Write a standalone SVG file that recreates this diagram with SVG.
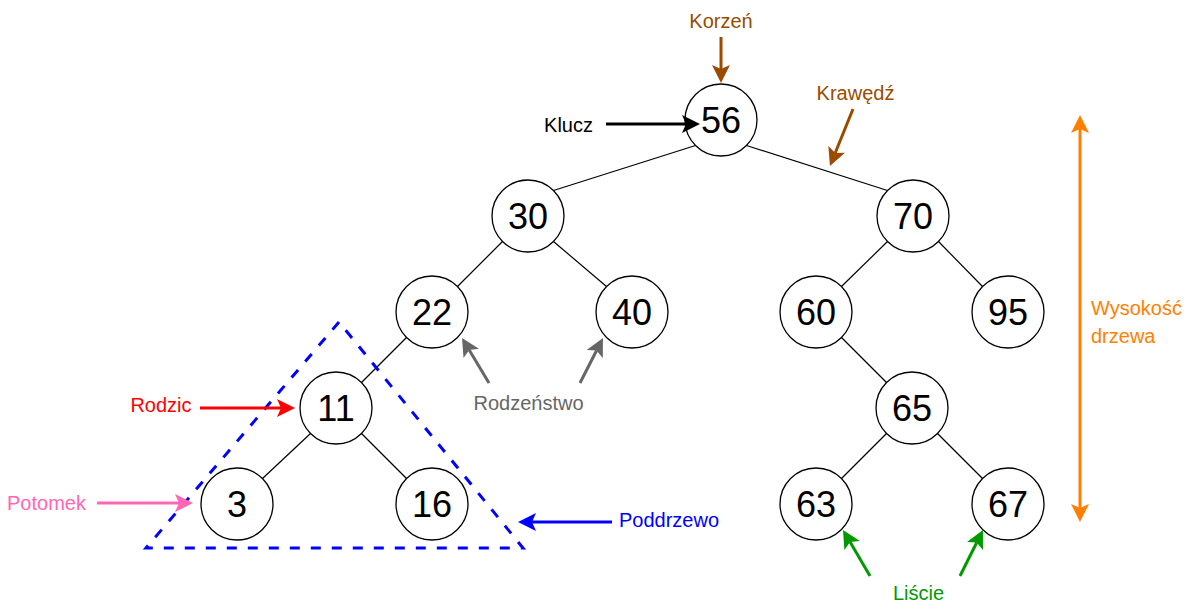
<svg xmlns="http://www.w3.org/2000/svg" width="1194" height="614" viewBox="0 0 1194 614">
<style>
.node circle{fill:#fff;stroke:#000;stroke-width:1.3}
.node text{font-family:"Liberation Sans",Arial,sans-serif;font-size:36px;fill:#000;text-anchor:middle}
.edge{stroke:#000;stroke-width:1.2;fill:none}
.lbl{font-family:"Liberation Sans",Arial,sans-serif;font-size:20px;text-anchor:middle}
.ar{stroke-width:3;fill:none}
</style>
<defs>
<marker id="mBrown" viewBox="0 0 18 18" markerWidth="18" markerHeight="18" markerUnits="userSpaceOnUse" refX="4" refY="9" orient="auto-start-reverse"><path d="M0,0 L18,9 L0,18 L4,9 Z" fill="#994C00"/></marker>
<marker id="mBlack" viewBox="0 0 18 18" markerWidth="18" markerHeight="18" markerUnits="userSpaceOnUse" refX="4" refY="9" orient="auto-start-reverse"><path d="M0,0 L18,9 L0,18 L4,9 Z" fill="#000"/></marker>
<marker id="mOrange" viewBox="0 0 18 18" markerWidth="18" markerHeight="18" markerUnits="userSpaceOnUse" refX="4" refY="9" orient="auto-start-reverse"><path d="M0,0 L18,9 L0,18 L4,9 Z" fill="#FF8000"/></marker>
<marker id="mGray" viewBox="0 0 18 18" markerWidth="18" markerHeight="18" markerUnits="userSpaceOnUse" refX="4" refY="9" orient="auto-start-reverse"><path d="M0,0 L18,9 L0,18 L4,9 Z" fill="#666666"/></marker>
<marker id="mRed" viewBox="0 0 18 18" markerWidth="18" markerHeight="18" markerUnits="userSpaceOnUse" refX="4" refY="9" orient="auto-start-reverse"><path d="M0,0 L18,9 L0,18 L4,9 Z" fill="#FF0000"/></marker>
<marker id="mPink" viewBox="0 0 18 18" markerWidth="18" markerHeight="18" markerUnits="userSpaceOnUse" refX="4" refY="9" orient="auto-start-reverse"><path d="M0,0 L18,9 L0,18 L4,9 Z" fill="#FF66B3"/></marker>
<marker id="mBlue" viewBox="0 0 18 18" markerWidth="18" markerHeight="18" markerUnits="userSpaceOnUse" refX="4" refY="9" orient="auto-start-reverse"><path d="M0,0 L18,9 L0,18 L4,9 Z" fill="#0000FF"/></marker>
<marker id="mGreen" viewBox="0 0 18 18" markerWidth="18" markerHeight="18" markerUnits="userSpaceOnUse" refX="4" refY="9" orient="auto-start-reverse"><path d="M0,0 L18,9 L0,18 L4,9 Z" fill="#009900"/></marker>
</defs>
<rect width="1194" height="614" fill="#fff"/>

<g id="connectors">
<line class="edge" x1="695.5" y1="145.5" x2="553.5" y2="190.5"/>
<line class="edge" x1="746.5" y1="145.5" x2="887.5" y2="190.5"/>
<line class="edge" x1="502.5" y1="241.5" x2="457.5" y2="286.5"/>
<line class="edge" x1="553.5" y1="241.5" x2="606.5" y2="286.5"/>
<line class="edge" x1="887.5" y1="241.5" x2="841.5" y2="286.5"/>
<line class="edge" x1="938.5" y1="241.5" x2="982.5" y2="286.5"/>
<line class="edge" x1="406.5" y1="337.5" x2="361.5" y2="382.5"/>
<line class="edge" x1="841.5" y1="337.5" x2="886.5" y2="382.5"/>
<line class="edge" x1="310.5" y1="433.5" x2="262.5" y2="478.5"/>
<line class="edge" x1="361.5" y1="433.5" x2="406.5" y2="478.5"/>
<line class="edge" x1="886.5" y1="433.5" x2="841.5" y2="478.5"/>
<line class="edge" x1="937.5" y1="433.5" x2="982.5" y2="478.5"/>
</g>

<g id="subtree">
<polygon points="339,322 146,548 523,548" fill="none" stroke="#0000FF" stroke-width="3" stroke-dasharray="10 11"/>
</g>

<g id="n56" class="node"><circle cx="721" cy="120" r="36"/><text x="721" y="133">56</text></g>
<g id="n30" class="node"><circle cx="528" cy="216" r="36"/><text x="528" y="229">30</text></g>
<g id="n70" class="node"><circle cx="913" cy="216" r="36"/><text x="913" y="229">70</text></g>
<g id="n22" class="node"><circle cx="432" cy="312" r="36"/><text x="432" y="325">22</text></g>
<g id="n40" class="node"><circle cx="632" cy="312" r="36"/><text x="632" y="325">40</text></g>
<g id="n60" class="node"><circle cx="816" cy="312" r="36"/><text x="816" y="325">60</text></g>
<g id="n95" class="node"><circle cx="1008" cy="312" r="36"/><text x="1008" y="325">95</text></g>
<g id="n11" class="node"><circle cx="336" cy="408" r="36"/><text x="336" y="421">11</text></g>
<g id="n65" class="node"><circle cx="912" cy="408" r="36"/><text x="912" y="421">65</text></g>
<g id="n3" class="node"><circle cx="237" cy="504" r="36"/><text x="237" y="517">3</text></g>
<g id="n16" class="node"><circle cx="432" cy="504" r="36"/><text x="432" y="517">16</text></g>
<g id="n63" class="node"><circle cx="816" cy="504" r="36"/><text x="816" y="517">63</text></g>
<g id="n67" class="node"><circle cx="1008" cy="504" r="36"/><text x="1008" y="517">67</text></g>

<g id="annotations">
<text class="lbl" x="721" y="28" fill="#994C00">Korzeń</text>
<line class="ar" x1="721" y1="37" x2="721" y2="69" stroke="#994C00" marker-end="url(#mBrown)"/>

<text class="lbl" x="568.5" y="132" fill="#000">Klucz</text>
<line class="ar" x1="606" y1="124" x2="686" y2="124" stroke="#000" marker-end="url(#mBlack)"/>

<text class="lbl" x="855.5" y="100" fill="#994C00">Krawędź</text>
<line class="ar" x1="853" y1="109" x2="835.2" y2="153" stroke="#994C00" marker-end="url(#mBrown)"/>

<text class="lbl" x="1091" y="315" fill="#FF8000" style="text-anchor:start">Wysokość</text>
<text class="lbl" x="1091" y="343" fill="#FF8000" style="text-anchor:start">drzewa</text>
<line class="ar" x1="1080" y1="129" x2="1080" y2="508" stroke="#FF8000" marker-start="url(#mOrange)" marker-end="url(#mOrange)"/>

<text class="lbl" x="528.5" y="410" fill="#666666">Rodzeństwo</text>
<line class="ar" x1="489" y1="383" x2="469.2" y2="350" stroke="#666666" marker-end="url(#mGray)"/>
<line class="ar" x1="580" y1="383" x2="596.6" y2="350.5" stroke="#666666" marker-end="url(#mGray)"/>

<text class="lbl" x="161" y="412" fill="#FF0000">Rodzic</text>
<line class="ar" x1="200" y1="408" x2="281" y2="408" stroke="#FF0000" marker-end="url(#mRed)"/>

<text class="lbl" x="46.5" y="510" fill="#FF66B3">Potomek</text>
<line class="ar" x1="97" y1="503" x2="179" y2="503" stroke="#FF66B3" marker-end="url(#mPink)"/>

<text class="lbl" x="669" y="527" fill="#0000FF">Poddrzewo</text>
<line class="ar" x1="612" y1="522" x2="532" y2="522" stroke="#0000FF" marker-end="url(#mBlue)"/>

<text class="lbl" x="918.5" y="600" fill="#009900">Liście</text>
<line class="ar" x1="870" y1="576" x2="850.1" y2="542.1" stroke="#009900" marker-end="url(#mGreen)"/>
<line class="ar" x1="960" y1="576" x2="976.7" y2="542.5" stroke="#009900" marker-end="url(#mGreen)"/>
</g>
</svg>
